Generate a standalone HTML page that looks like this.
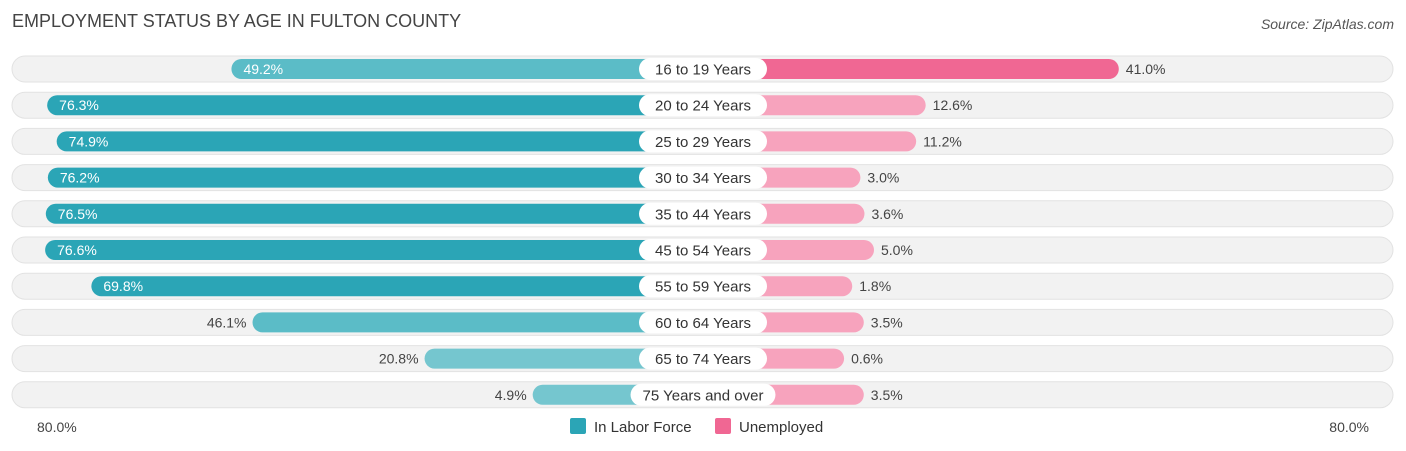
<!DOCTYPE html>
<html><head><meta charset="utf-8"><style>
body{margin:0;width:1406px;height:451px;background:#fff;font-family:"Liberation Sans",sans-serif;overflow:hidden;position:relative}
.t{position:absolute;left:12px;top:11px;font-size:18px;color:#444}
.s{position:absolute;right:12px;top:16px;font-size:14px;color:#555;font-style:italic}
</style></head><body>
<div class="t">EMPLOYMENT STATUS BY AGE IN FULTON COUNTY</div>
<div class="s">Source: ZipAtlas.com</div>
<svg id="c" width="1406" height="451" style="position:absolute;left:0;top:0"></svg>
<script>
const categories=["16 to 19 Years","20 to 24 Years","25 to 29 Years","30 to 34 Years","35 to 44 Years","45 to 54 Years","55 to 59 Years","60 to 64 Years","65 to 74 Years","75 Years and over"];
const laborForce=[49.2,76.3,74.9,76.2,76.5,76.6,69.8,46.1,20.8,4.9];
const unemployed=[41.0,12.6,11.2,3.0,3.6,5.0,1.8,3.5,0.6,3.5];
const axisLabels=["80.0%","80.0%"];
const NS="http://www.w3.org/2000/svg",svg=document.getElementById("c");
const cx=703,off=137,sc=6.8,y0=69,dy=36.2;
function xs(v){return off+sc*v;}
function mk(t,a){const e=document.createElementNS(NS,t);for(const k in a)e.setAttribute(k,a[k]);svg.appendChild(e);return e;}
categories.forEach((c,i)=>{
 const y=y0+i*dy;
 const bg=mk("rect",{x:12,y:y-13,width:1381,height:26,rx:13,fill:"#f2f2f2",stroke:"#e2e2e2"});
 
 
 const lv=laborForce[i],uv=unemployed[i];
 const lw=xs(lv);
 const lb=mk("rect",{x:cx-lw,y:y-10,width:lw,height:20,rx:10,fill:lv>60?"#2ba5b6":(lv>40?"#5bbcc7":"#75c6cf")});
 
 
 const uw=xs(uv);
 const ub=mk("rect",{x:cx,y:y-10,width:uw,height:20,rx:10,fill:uv>30?"#f06793":"#f7a3bd"});
 
 
 const pill=mk("rect",{x:cx-64,y:y-11,width:128,height:22,rx:11,fill:"#fff"});
 
 
 const ct=mk("text",{x:cx,y:y+5.5,"text-anchor":"middle","font-size":15,fill:"#333"});ct.textContent=c;
 
 
 const tw=Math.max(128,ct.getComputedTextLength()+24);
 pill.setAttribute("x",cx-tw/2);pill.setAttribute("width",tw);
 const inside=lv>48;
 const lt=mk("text",{x:inside?cx-lw+12:cx-lw-6,y:y+5,"text-anchor":inside?"start":"end","font-size":14,fill:inside?"#fff":"#444"});
 lt.textContent=lv.toFixed(1)+"%";
 
 
 const ut=mk("text",{x:cx+uw+7,y:y+5,"font-size":14,fill:"#444"});
 ut.textContent=uv.toFixed(1)+"%";
 
 
});
const a1=mk("text",{x:37,y:432,"font-size":14,fill:"#444"});a1.textContent=axisLabels[0];


const a2=mk("text",{x:1369,y:432,"font-size":14,fill:"#444","text-anchor":"end"});a2.textContent=axisLabels[1];


const g1=mk("rect",{x:570,y:418,width:16,height:16,rx:2,fill:"#2ba5b6"});


const l1=mk("text",{x:594,y:432,"font-size":15,fill:"#333"});l1.textContent="In Labor Force";


const g2=mk("rect",{x:715,y:418,width:16,height:16,rx:2,fill:"#f06793"});


const l2=mk("text",{x:739,y:432,"font-size":15,fill:"#333"});l2.textContent="Unemployed";


</script>
</body></html>
